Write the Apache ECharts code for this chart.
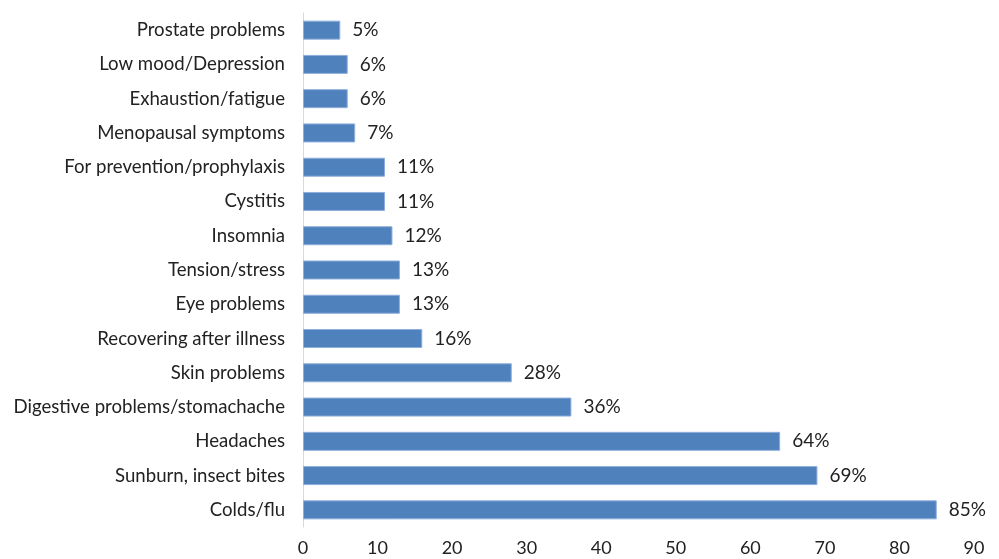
<!DOCTYPE html>
<html>
<head>
<meta charset="utf-8">
<script src="https://cdn.jsdelivr.net/npm/echarts@6/dist/echarts.min.js"></script>
<style>
  html, body { margin: 0; padding: 0; background: #fff; }
  #chart { width: 999px; height: 559px; }
</style>
</head>
<body>
<div id="chart"></div>
<script>
// categories from bottom to top (ECharts draws category axis upward)
const categories = [
  'Colds/flu',
  'Sunburn, insect bites',
  'Headaches',
  'Digestive problems/stomachache',
  'Skin problems',
  'Recovering after illness',
  'Eye problems',
  'Tension/stress',
  'Insomnia',
  'Cystitis',
  'For prevention/prophylaxis',
  'Menopausal symptoms',
  'Exhaustion/fatigue',
  'Low mood/Depression',
  'Prostate problems'
];
const values = [85, 69, 64, 36, 28, 16, 13, 13, 12, 11, 11, 7, 6, 6, 5];
const xTicks = { min: 0, max: 90, step: 10 };

const chart = echarts.init(document.getElementById('chart'), null, { renderer: 'canvas' });

const font = 'Lato, "Open Sans", sans-serif';

chart.setOption({
  animation: false,
  backgroundColor: '#ffffff',
  grid: { left: 303, right: 25, top: 13, bottom: 32, containLabel: false },
  xAxis: {
    type: 'value',
    min: xTicks.min,
    max: xTicks.max,
    interval: xTicks.step,
    axisLine: { show: false },
    axisTick: { show: false },
    splitLine: { show: false },
    axisLabel: { color: '#222', fontSize: 18, fontFamily: font, margin: 12 }
  },
  yAxis: {
    type: 'category',
    data: categories,
    axisLine: { show: true, lineStyle: { color: '#d9d9d9', width: 1 } },
    axisTick: { show: false },
    axisLabel: { color: '#222', fontSize: 18.6, fontFamily: font, margin: 18 }
  },
  series: [{
    type: 'bar',
    data: values,
    barWidth: 19,
    itemStyle: { color: '#4f81bd', borderColor: '#8eaedb', borderWidth: 1 },
    label: {
      show: true,
      position: 'right',
      distance: 12,
      formatter: '{c}%',
      color: '#222',
      fontSize: 19,
      fontFamily: font
    }
  }]
});
</script>
</body>
</html>
